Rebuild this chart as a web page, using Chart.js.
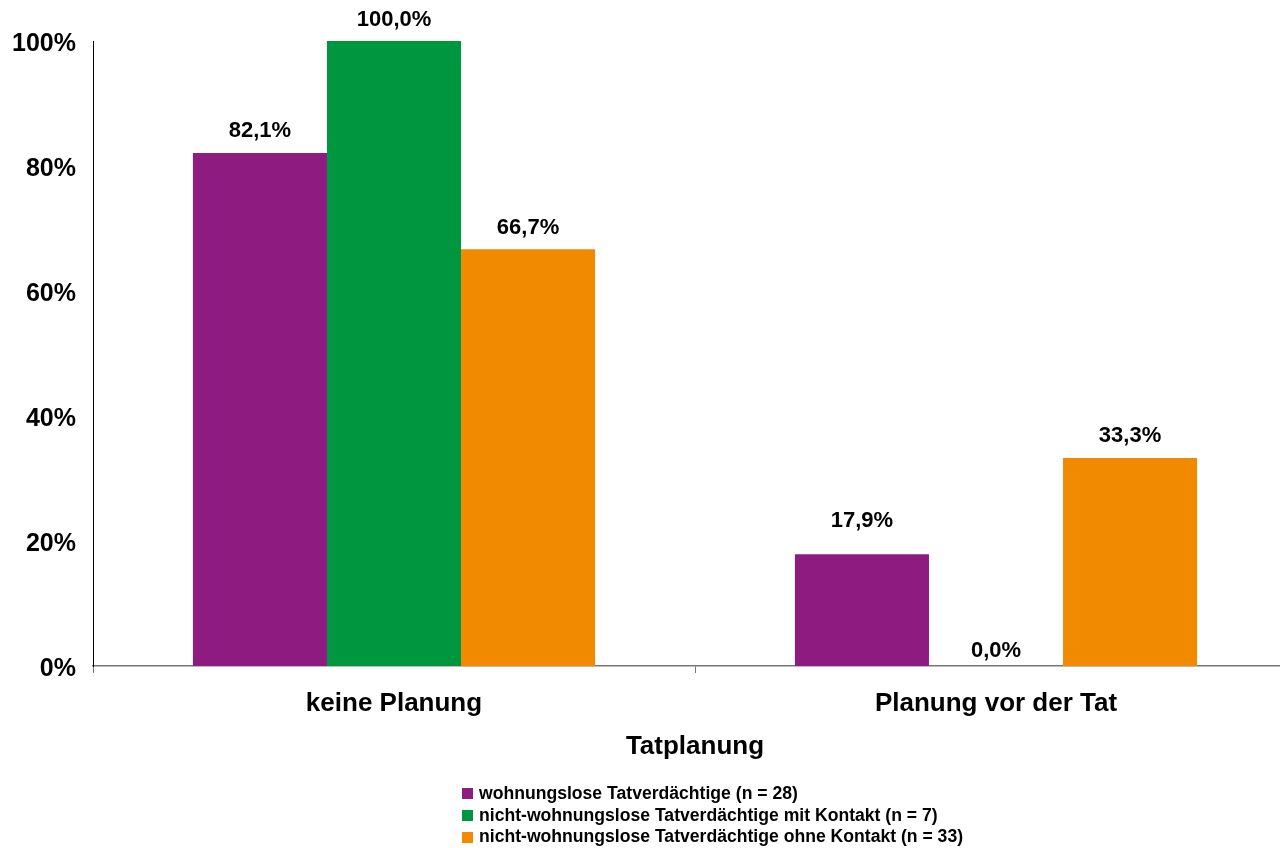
<!DOCTYPE html>
<html><head><meta charset="utf-8">
<script src="https://cdn.jsdelivr.net/npm/chart.js@4/dist/chart.umd.min.js"></script>
<style>
html,body{margin:0;padding:0;background:#fff;overflow:hidden;width:1280px;height:848px;}
#wrap{position:absolute;left:0;top:0;width:1297px;height:848px;}
#legend{position:absolute;left:462px;top:783px;font:bold 17.6px "Liberation Sans",Arial,sans-serif;color:#000;line-height:21.7px;}
#legend .it{display:flex;align-items:center;white-space:nowrap;}
#legend .sw{width:11px;height:11px;margin-right:6px;display:inline-block;}
</style></head><body>
<div id="wrap"><canvas id="c" width="1297" height="848"></canvas></div>
<div id="legend"></div>
<script>
const categories = ["keine Planung", "Planung vor der Tat"];
const seriesNames = [
  "wohnungslose Tatverdächtige (n = 28)",
  "nicht-wohnungslose Tatverdächtige mit Kontakt (n = 7)",
  "nicht-wohnungslose Tatverdächtige ohne Kontakt (n = 33)"
];
const wohnungslose = [82.1, 17.9];
const mitKontakt = [100.0, 0.0];
const ohneKontakt = [66.7, 33.3];
const colors = ["#8E1C80", "#00963F", "#F18A00"];
const axisTitle = "Tatplanung";
const yTicks = [0, 20, 40, 60, 80, 100];

const FONT = '"Liberation Sans", Arial, sans-serif';
const seriesData = [wohnungslose, mitKontakt, ohneKontakt];

const labelPlugin = {
  id: 'barLabels',
  afterDatasetsDraw(chart, args, opts) {
    const ctx = chart.ctx;
    ctx.save();
    ctx.font = 'bold 22px ' + FONT;
    ctx.fillStyle = '#000';
    ctx.textAlign = 'center';
    ctx.textBaseline = 'middle';
    chart.data.datasets.forEach((ds, i) => {
      const meta = chart.getDatasetMeta(i);
      meta.data.forEach((bar, j) => {
        const v = ds.data[j];
        const txt = v.toFixed(1).replace('.', ',') + '%';
        const off = (opts.offsets && opts.offsets[i] && opts.offsets[i][j] != null) ? opts.offsets[i][j] : 22;
        ctx.fillText(txt, bar.x, bar.y - off);
      });
    });
    ctx.restore();
  }
};

new Chart(document.getElementById('c'), {
  type: 'bar',
  data: {
    labels: categories,
    datasets: seriesNames.map((n, i) => ({
      label: n,
      data: seriesData[i],
      backgroundColor: colors[i],
      borderWidth: 0,
      categoryPercentage: 0.668,
      barPercentage: 1.0
    }))
  },
  options: {
    responsive: false,
    animation: false,
    layout: { padding: { top: 41, bottom: 78, left: 0, right: 0 } },
    plugins: {
      legend: { display: false },
      tooltip: { enabled: false },
      barLabels: { offsets: [[22, 33], [21, 15], [21, 22]] }
    },
    scales: {
      x: {
        offset: true,
        grid: { display: true, drawOnChartArea: false, drawTicks: true, tickLength: 7, color: '#777', offset: true },
        border: { display: true, color: '#777', width: 1.5 },
        ticks: { color: '#000', font: { family: FONT, size: 26, weight: 'bold' }, padding: 15, maxRotation: 0 },
        title: { display: true, text: axisTitle, color: '#000', font: { family: FONT, size: 26, weight: 'bold' }, padding: { top: 4, bottom: 8 } },
        afterFit(s) { s.height = 104; }
      },
      y: {
        min: 0, max: 100,
        afterBuildTicks(s) { s.ticks = yTicks.map(v => ({ value: v })); },
        grid: { display: false },
        border: { display: true, color: '#000', width: 1 },
        ticks: { color: '#000', font: { family: FONT, size: 25, weight: 'bold' }, padding: 9, labelOffset: 3, callback: v => v + '%' },
        afterFit(s) { s.width = 93; }
      }
    }
  },
  plugins: [labelPlugin]
});

const lg = document.getElementById('legend');
seriesNames.forEach((n, i) => {
  const d = document.createElement('div');
  d.className = 'it';
  const sw = document.createElement('span');
  sw.className = 'sw';
  sw.style.background = colors[i];
  d.appendChild(sw);
  d.appendChild(document.createTextNode(n));
  lg.appendChild(d);
});
</script>
</body></html>
